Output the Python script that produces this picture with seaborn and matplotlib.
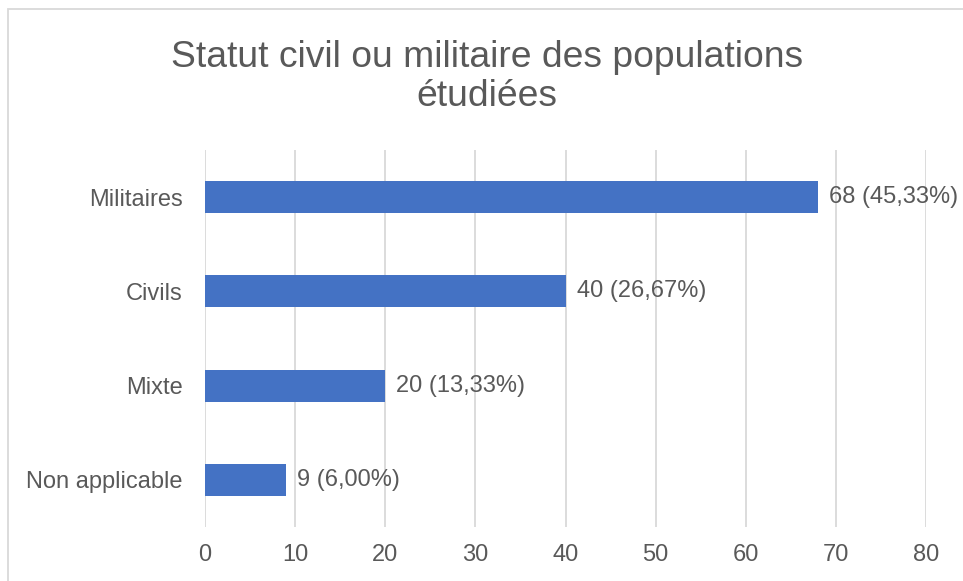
import matplotlib
matplotlib.use("Agg")
import matplotlib.pyplot as plt
import seaborn as sns
import pandas as pd
from matplotlib.patches import Rectangle

categories = ["Militaires", "Civils", "Mixte", "Non applicable"]
values = [68, 40, 20, 9]
labels = ["68 (45,33%)", "40 (26,67%)", "20 (13,33%)", "9 (6,00%)"]
xticks = [0, 10, 20, 30, 40, 50, 60, 70, 80]
title = "Statut civil ou militaire des populations\nétudiées"

sns.set_theme(style="white")
plt.rcParams['font.family'] = ['Liberation Sans', 'DejaVu Sans']

text_color = "#595959"
grid_color = "#D9D9D9"
bar_color = "#4472C4"

df = pd.DataFrame({"cat": categories, "val": values})

fig = plt.figure(figsize=(9.63, 5.81), dpi=100)
ax = fig.add_axes([205/963, 1-527/581, (926-205)/963, (527-150)/581])

sns.barplot(data=df, y="cat", x="val", orient="h", color=bar_color,
            width=0.34, saturation=1, ax=ax, order=categories, linewidth=0)

ax.set_xlim(0, 80)
ax.set_ylim(3.5, -0.5)
ax.set_xticks(xticks)
ax.set_xticklabels([str(t) for t in xticks])
ax.xaxis.grid(True, color=grid_color, linewidth=1.3)
ax.yaxis.grid(False)
ax.set_axisbelow(True)
for s in ax.spines.values():
    s.set_visible(False)
ax.tick_params(axis="both", length=0, labelsize=17, colors=text_color)
ax.tick_params(axis="x", pad=12)
ax.tick_params(axis="y", pad=16)
ax.set_xlabel("")
ax.set_ylabel("")

ax.bar_label(ax.containers[0], labels=labels, padding=8, fontsize=17, color=text_color)

fig.text(487/963, 1-77/581, title, ha="center", va="center", fontsize=26.8,
         color=text_color, linespacing=1.17)

fig.patches.append(Rectangle((8/963, -0.1), 1.2, 1-9/581+0.1, transform=fig.transFigure,
                             fill=False, edgecolor=grid_color, linewidth=1.3))

fig.savefig("out.png", dpi=100)
